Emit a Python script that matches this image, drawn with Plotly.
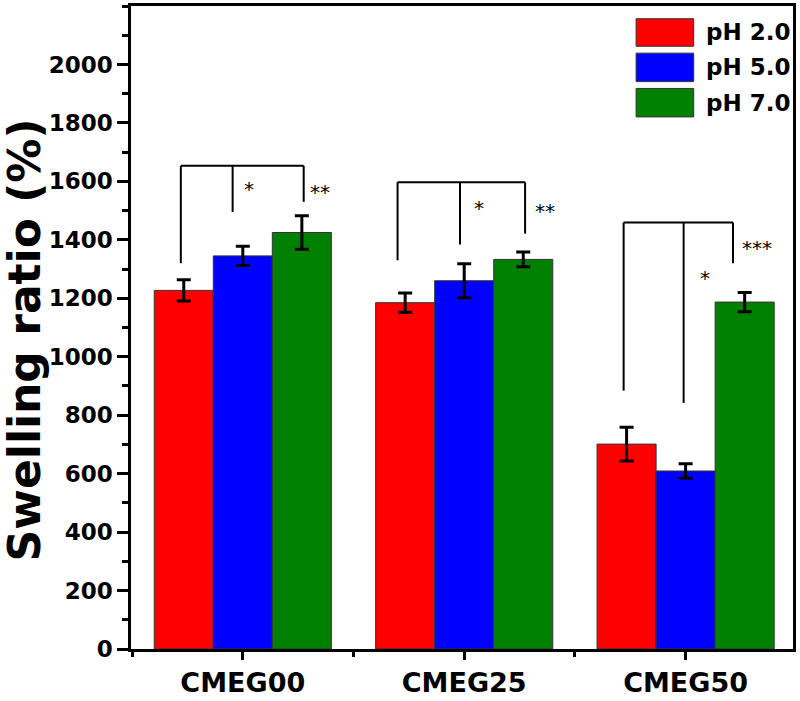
import plotly.graph_objects as go

categories = ["CMEG00", "CMEG25", "CMEG50"]
series_names = ["pH 2.0", "pH 5.0", "pH 7.0"]
ph2 = [1227, 1185, 701]
ph2_err = [36, 33, 58]
ph5 = [1345, 1260, 609]
ph5_err = [33, 58, 25]
ph7 = [1425, 1333, 1187]
ph7_err = [57, 25, 33]
y_ticks = [0, 200, 400, 600, 800, 1000, 1200, 1400, 1600, 1800, 2000]

# significance brackets: (group index, [left, mid, right x offsets], top y, [left, mid, right bottom y])
brackets = [
    (0, [-0.28, -0.046, 0.275], 1653, [1320, 1495, 1530]),
    (1, [-0.301, -0.019, 0.275], 1597, [1330, 1384, 1421]),
    (2, [-0.28, -0.009, 0.214], 1459, [884, 842, 1320]),
]
stars = [
    (0, 0.027, 1573, "*"), (0, 0.348, 1563, "**"),
    (1, 0.068, 1510, "*"), (1, 0.364, 1499, "**"),
    (2, 0.324, 1371, "***"), (2, 0.089, 1270, "*"),
]

colors = ["#ff0000", "#0000ff", "#008000"]
FONT = "DejaVu Sans"

fig = go.Figure()
xs = list(range(len(categories)))
for name, vals, errs, col in zip(series_names, [ph2, ph5, ph7], [ph2_err, ph5_err, ph7_err], colors):
    fig.add_trace(go.Bar(
        x=xs, y=vals, name=name,
        marker=dict(color=col, line=dict(color="#333333", width=1)),
        error_y=dict(type="data", array=errs, visible=True, color="black", thickness=3, width=7),
        showlegend=False,
    ))

shapes = []
for g, offs, top, bots in brackets:
    shapes.append(dict(type="line", xref="x", yref="y", x0=g + offs[0], x1=g + offs[2], y0=top, y1=top,
                       line=dict(color="black", width=2)))
    for o, b in zip(offs, bots):
        shapes.append(dict(type="line", xref="x", yref="y", x0=g + o, x1=g + o, y0=top, y1=b,
                           line=dict(color="black", width=2)))

annotations = []
for g, o, yv, s in stars:
    annotations.append(dict(x=g + o, y=yv, xref="x", yref="y", text=s, showarrow=False,
                            font=dict(family=FONT, size=20, color="black")))

# manual legend
leg_rows = [(0.9374, 0.9802, 0.9588), (0.8824, 0.9267, 0.9046), (0.8275, 0.8718, 0.8496)]
for (y0, y1, yc), col, name in zip(leg_rows, colors, series_names):
    shapes.append(dict(type="rect", xref="paper", yref="paper", x0=0.763, x1=0.850, y0=y0, y1=y1,
                       fillcolor=col, line=dict(color="#333333", width=1)))
    annotations.append(dict(x=0.8656, y=yc, xref="paper", yref="paper", text=name, showarrow=False,
                            xanchor="left", yanchor="middle",
                            font=dict(family=FONT, size=23, color="black", weight="bold")))

annotations.append(dict(x=-0.1616, y=0.48, xref="paper", yref="paper", text="Swelling ratio (%)",
                        textangle=-90, showarrow=False, xanchor="center", yanchor="middle",
                        font=dict(family=FONT, size=44, color="black", weight="bold")))

fig.update_layout(
    width=800, height=701,
    margin=dict(l=131, r=7, t=3, b=45),
    paper_bgcolor="white", plot_bgcolor="white",
    barmode="group", bargap=0.2, bargroupgap=0,
    shapes=shapes, annotations=annotations,
    showlegend=False,
)
fig.update_xaxes(
    range=[-0.505, 2.485], tickmode="array", tickvals=xs, ticktext=categories,
    showline=True, linecolor="black", linewidth=2.5, mirror=True,
    ticks="outside", ticklen=8, tickwidth=2.5, tickcolor="black",
    minor=dict(tickmode="array", tickvals=[-0.5, 0.5, 1.5, 2.5], ticks="outside", ticklen=5,
               tickwidth=2.5, tickcolor="black"),
    showgrid=False, zeroline=False,
    tickfont=dict(family=FONT, size=27, color="black", weight="bold"),
)
fig.update_yaxes(
    range=[0, 2200], tickmode="array", tickvals=y_ticks,
    showline=True, linecolor="black", linewidth=2.5, mirror=True,
    ticks="outside", ticklen=11, tickwidth=2.5, tickcolor="black",
    minor=dict(dtick=100, tick0=0, ticks="outside", ticklen=6, tickwidth=2.5, tickcolor="black"),
    showgrid=False, zeroline=False,
    tickfont=dict(family=FONT, size=23, color="black", weight="bold"),
)
css = "margin:0;padding:0;overflow:hidden;width:800px;height:701px;"
fig.write_html("out.html", config={"displayModeBar": False},
               post_script=("document.documentElement.style.cssText='" + css + "';"
                            "document.body.style.cssText='" + css + "';"))
